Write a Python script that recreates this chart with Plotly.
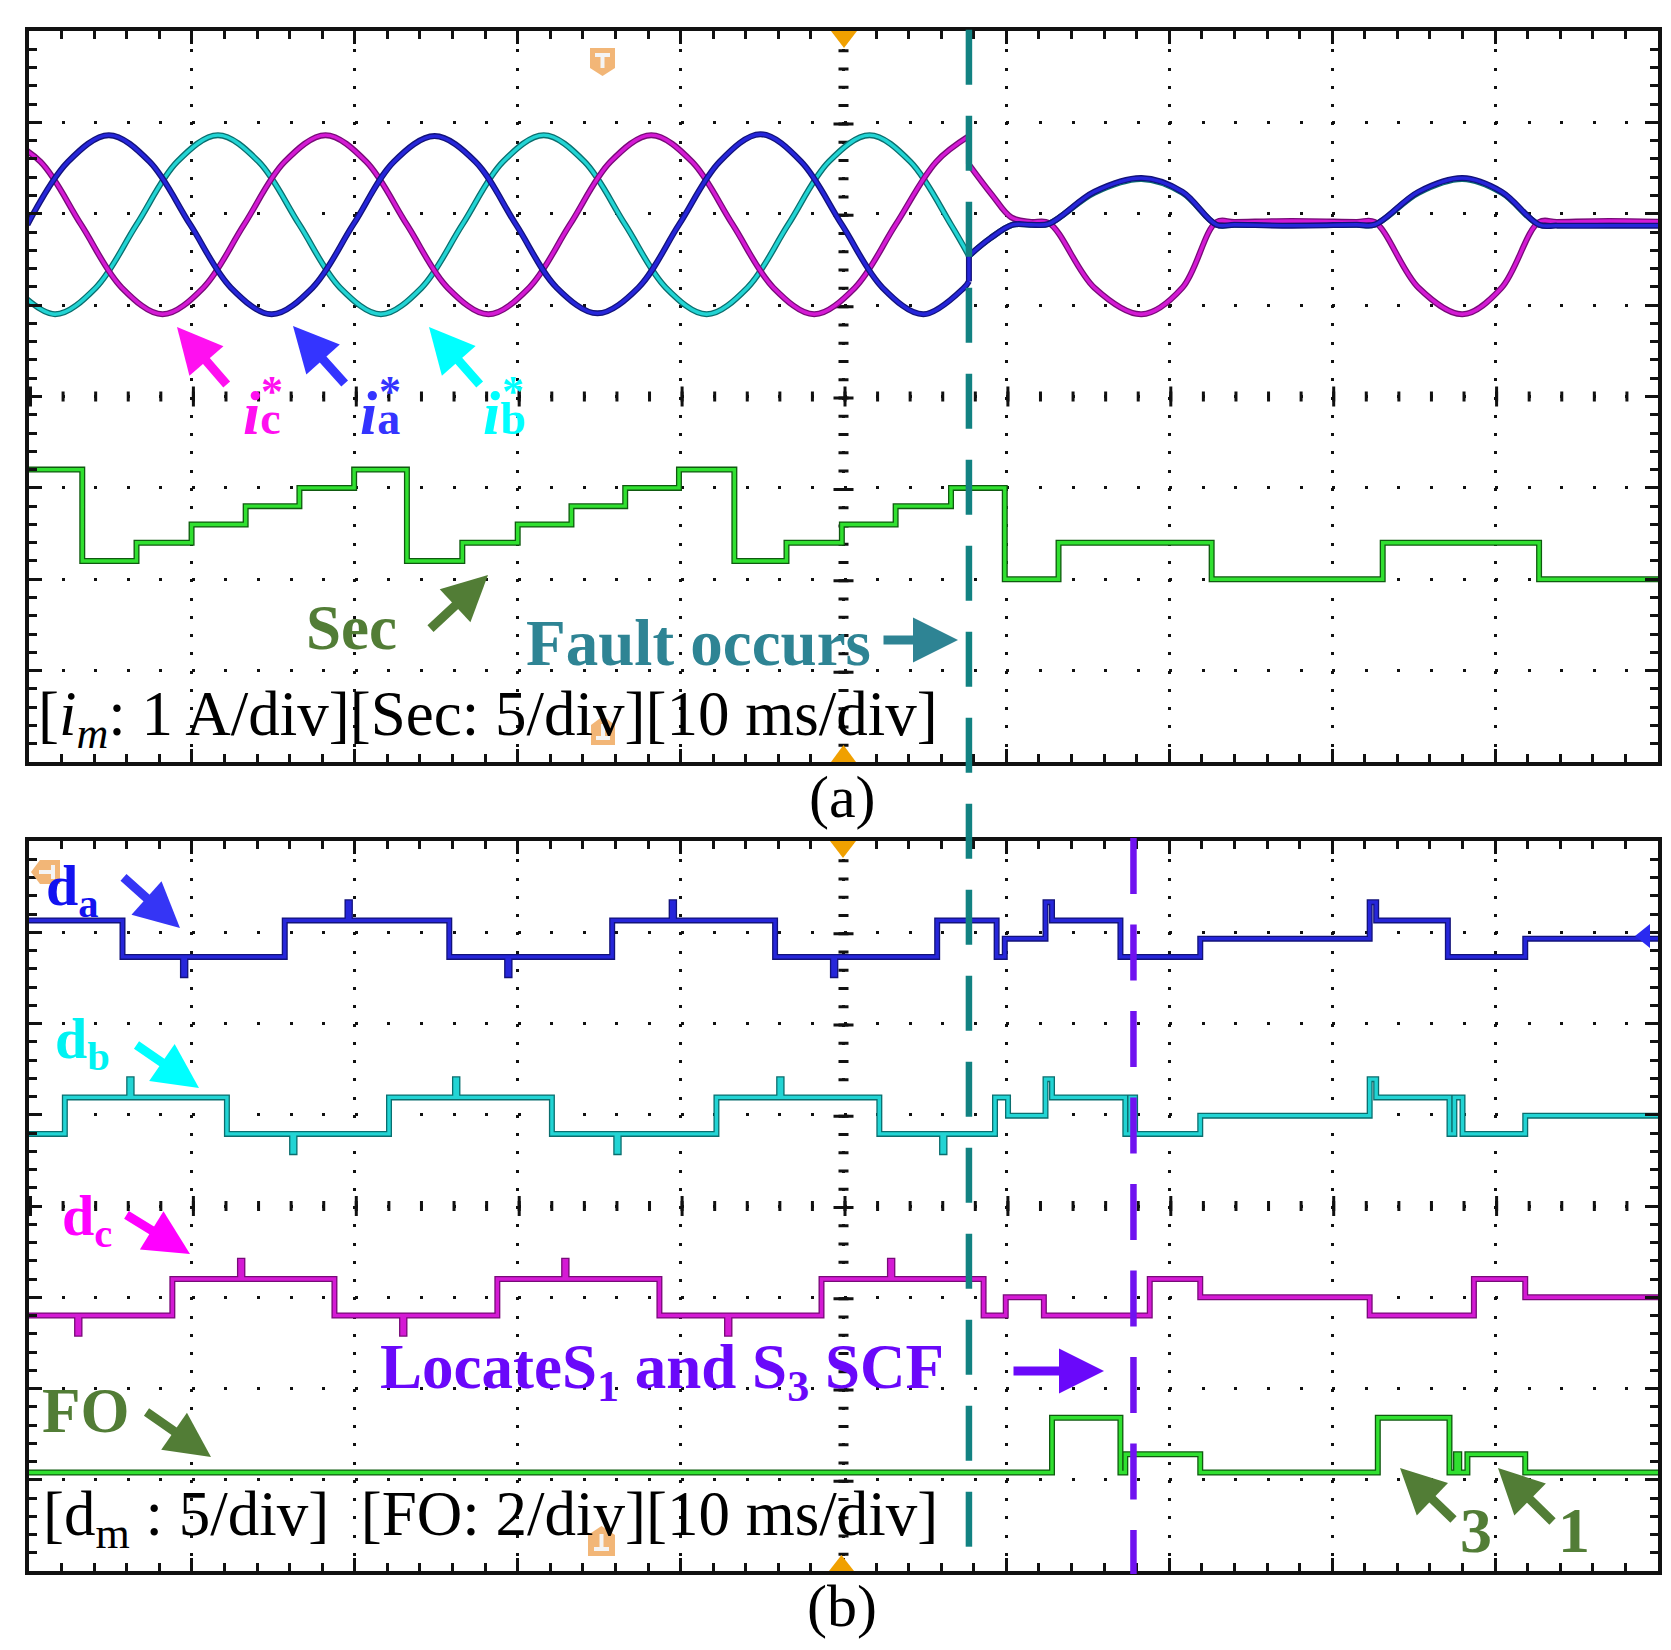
import numpy as np
import plotly.graph_objects as go

W, H = 1671, 1650
SERIF = "Liberation Serif, Times New Roman, serif"

# ---------------- panel (a): reference currents (A, 1 A/div), time in ms ----------------
IA_T = [-0.1, 2.4, 4.9, 7.4, 9.9, 12.4, 14.9, 17.4, 19.9, 22.4, 24.9, 27.4, 29.9, 32.4,
        34.9, 37.4, 39.9, 42.4, 44.9, 47.4, 49.9, 52.4, 54.9, 57.4, 57.7,
        57.7, 59.0, 60.4, 61.5, 62.6, 65.4, 68.3, 70.8, 72.9, 74.0, 77.5, 81.5, 82.6,
        85.3, 88.0, 90.4, 92.7, 93.8, 97.0, 100.5]
IA_V = [0.00, 0.69, 0.98, 0.69, 0.00, -0.69, -0.98, -0.69, 0.00, 0.69, 0.97, 0.69, 0.00, -0.69,
        -0.97, -0.69, 0.00, 0.69, 0.99, 0.69, 0.00, -0.69, -0.98, -0.69, -0.62,
        -0.34, -0.15, 0.00, 0.00, 0.01, 0.36, 0.51, 0.36, 0.00, 0.00, -0.01, 0.00, 0.00,
        0.36, 0.51, 0.36, 0.00, -0.01, -0.01, -0.01]

IB_T = [-0.9, 1.6, 4.1, 6.6, 9.1, 11.6, 14.1, 16.6, 19.1, 21.6, 24.1, 26.6, 29.1, 31.6,
        34.1, 36.6, 39.1, 41.6, 44.1, 46.6, 49.1, 51.6, 54.1, 56.6, 57.7,
        59.0, 60.4, 61.5, 62.6, 65.4, 68.3, 70.8, 72.9, 74.0, 77.5, 81.5, 82.6,
        85.3, 88.0, 90.4, 92.7, 93.8, 97.0, 100.5]
IB_V = [-0.69, -0.98, -0.69, 0.00, 0.69, 0.98, 0.69, 0.00, -0.69, -0.98, -0.69, 0.00, 0.69, 0.98,
        0.69, 0.00, -0.69, -0.98, -0.69, 0.00, 0.69, 0.98, 0.69, 0.00, -0.34,
        -0.15, 0.00, 0.00, 0.01, 0.35, 0.50, 0.35, 0.00, 0.00, 0.00, 0.00, 0.00,
        0.35, 0.50, 0.35, 0.00, 0.00, 0.00, 0.00]

IC_T = [-1.8, 0.7, 3.2, 5.7, 8.2, 10.7, 13.2, 15.7, 18.2, 20.7, 23.2, 25.7, 28.2, 30.7,
        33.2, 35.7, 38.2, 40.7, 43.2, 45.7, 48.2, 50.7, 53.2, 55.7, 57.7,
        57.7, 59.1, 60.3, 61.5, 62.6, 65.4, 68.3, 70.8, 72.9, 74.0, 77.5, 81.5, 82.6,
        85.3, 88.0, 90.4, 92.7, 93.8, 97.0, 100.5]
IC_V = [0.98, 0.69, 0.00, -0.69, -0.98, -0.69, 0.00, 0.69, 0.98, 0.69, 0.00, -0.69, -0.98, -0.69,
        0.00, 0.69, 0.98, 0.69, 0.00, -0.69, -0.98, -0.69, 0.00, 0.69, 0.97,
        0.66, 0.33, 0.08, 0.03, 0.02, -0.69, -0.98, -0.69, 0.03, 0.03, 0.04, 0.03, 0.03,
        -0.69, -0.98, -0.69, 0.03, 0.03, 0.04, 0.03]

# sector number (Sec: 5/div)
SEC_T = [0, 3.27, 6.6, 9.98, 13.3, 16.6, 19.96, 23.2, 26.6, 30.0, 33.3, 36.6, 39.9, 43.3,
         46.5, 49.9, 53.2, 56.6, 59.9, 63.2, 72.6, 83.1, 92.7, 100]
SEC_V = [6, 1, 2, 3, 4, 5, 6, 1, 2, 3, 4, 5, 6, 1, 2, 3, 4, 5, 0, 2, 0, 2, 0, 0]

# ---------------- panel (b): diagnostic variables (levels) ----------------
DA_T = [0, 5.74, 9.45, 9.6, 15.7, 19.55, 19.7, 25.8, 29.35, 29.5, 35.8, 39.45, 39.6, 45.8,
        49.35, 49.5, 55.75, 59.4, 59.9, 62.4, 62.8, 67.0, 71.9, 82.3, 82.7, 87.1, 91.85, 100]
DA_V = [1, -1, -2, -1, 1, 2, 1, -1, -2, -1, 1, 2, 1, -1, -2, -1, 1, -1, 0, 2, 1, -1, 0, 2, 1, -1, 0, 0]

DB_T = [0, 2.2, 6.15, 6.3, 12.15, 16.15, 16.3, 22.1, 26.15, 26.3, 32.1, 36.05, 36.2, 42.2, 46.05,
        46.2, 52.2, 56.05, 56.2, 59.3, 60.1, 62.4, 62.8, 67.3, 67.6, 67.9, 71.9, 82.3, 82.7,
        87.2, 87.5, 88.0, 91.85, 100]
DB_V = [-1, 1, 2, 1, -1, -2, -1, 1, 2, 1, -1, -2, -1, 1, 2, 1, -1, -2, -1, 1, 0, 2, 1, -1,
        1, -1, 0, 2, 1, -1, 1, -1, 0, 0]

DC_T = [0, 2.95, 3.1, 8.8, 12.95, 13.1, 18.75, 22.9, 23.05, 28.75, 32.85, 33.0, 38.7, 42.85,
        43.0, 48.65, 52.85, 53.0, 58.6, 59.96, 62.3, 68.8, 71.9, 82.3, 88.7, 91.85, 100]
DC_V = [-1, -2, -1, 1, 2, 1, -1, -2, -1, 1, 2, 1, -1, -2, -1, 1, 2, 1, -1, 0, -1, 1, 0, -1, 1, 0, 0]

FO_T = [0, 62.8, 67.0, 67.3, 71.9, 82.8, 87.2, 87.6, 87.8, 88.3, 91.85, 100]
FO_V = [0, 3, 0, 1, 0, 3, 0, 1, 0, 1, 0, 0]

T_FAULT = 57.7     # fault occurs
T_LOCATE = 67.8    # S1 and S3 located

# channel positions (div) and scale (div per unit)
I_POS, SEC_POS, SEC_DIV = 5.88, 2.0, 0.2
DA_POS, DB_POS, DC_POS, FO_POS, D_DIV = 6.93, 4.99, 3.00, 1.08, 0.2

# panel boxes in pixels: left, top, right, bottom
PA = (21, 23, 1650, 754)
PB = (21, 833, 1650, 1563)

BLUE = ("#12127a", "#2626da")
CYAN = ("#0a6e6e", "#22d4d4")
MAG = ("#780a78", "#d41ad4")
GRN = ("#0f5a0f", "#30e030")


def px(x):
    return x / W


def py(y):
    return 1 - y / H


fig = go.Figure()


def scope(t, y, cols, shape, xa, ya):
    for col, w in ((cols[0], 6), (cols[1], 3.4)):
        fig.add_trace(go.Scatter(x=t, y=y, mode="lines", xaxis=xa, yaxis=ya,
                                 line=dict(color=col, width=w, shape=shape),
                                 hoverinfo="skip", showlegend=False))


def current(t, v, cols):
    # smooth before and after the fault, straight jump at the fault instant
    t = np.array(t)
    y = I_POS + np.array(v)
    at = np.where(np.isclose(t, T_FAULT))[0]
    k1, k2 = at[0], at[-1]
    scope(t[:k1 + 1], y[:k1 + 1], cols, "spline", "x", "y")
    scope(t[k2:], y[k2:], cols, "spline", "x", "y")
    if k2 > k1:
        scope(t[k1:k2 + 1], y[k1:k2 + 1], cols, "linear", "x", "y")


scope(SEC_T, SEC_POS + SEC_DIV * np.array(SEC_V), GRN, "hv", "x", "y")
current(IB_T, IB_V, CYAN)
current(IC_T, IC_V, MAG)
current(IA_T, IA_V, BLUE)

scope(DA_T, DA_POS + D_DIV * np.array(DA_V), BLUE, "hv", "x2", "y2")
scope(DB_T, DB_POS + D_DIV * np.array(DB_V), CYAN, "hv", "x2", "y2")
scope(DC_T, DC_POS + D_DIV * np.array(DC_V), MAG, "hv", "x2", "y2")
scope(FO_T, FO_POS + D_DIV * np.array(FO_V), GRN, "hv", "x2", "y2")


def axes(box, anchor, is_x):
    l, t, r, b = box
    xminor = (r - l) / 50
    yminor = (b - t) / 40
    common = dict(anchor=anchor, showticklabels=False, fixedrange=True, zeroline=False,
                  ticks="inside", ticklen=13, tickwidth=3, tickcolor="#111",
                  minor=dict(ticks="inside", ticklen=8, tickwidth=3, tickcolor="#111", showgrid=False),
                  showline=True, linewidth=4, linecolor="#111", mirror="allticks",
                  showgrid=True, gridcolor="#111", gridwidth=3)
    if is_x:
        common.update(domain=[px(l), px(r)], range=[0, 100], dtick=10, tick0=0,
                      griddash="3px,%.3fpx" % (yminor - 3))
        common["minor"]["dtick"] = 2
    else:
        common.update(domain=[py(b), py(t)], range=[0, 8], dtick=1, tick0=0,
                      griddash="3px,%.3fpx" % (xminor - 3))
        common["minor"]["dtick"] = 0.2
    return common


shapes = []
for box, xr, yr in ((PA, "x", "y"), (PB, "x2", "y2")):
    l, t, r, b = box
    xminor, yminor = (r - l) / 50, (b - t) / 40
    for wd, per in ((10, yminor), (20, yminor * 5)):
        shapes.append(dict(type="line", xref=xr, yref=yr, x0=50, x1=50, y0=8, y1=0, layer="below",
                           line=dict(color="#111", width=wd, dash="3px,%.3fpx" % (per - 3))))
    for wd, per in ((10, xminor), (20, xminor * 5)):
        shapes.append(dict(type="line", xref=xr, yref=yr, x0=0, x1=100, y0=4, y1=4, layer="below",
                           line=dict(color="#111", width=wd, dash="3px,%.3fpx" % (per - 3))))

# event lines
shapes.append(dict(type="line", xref="x", yref="paper", x0=T_FAULT, x1=T_FAULT,
                   y0=py(21.7), y1=py(1547), line=dict(color="#128282", width=6.5, dash="55px,31px")))
shapes.append(dict(type="line", xref="x2", yref="paper", x0=T_LOCATE, x1=T_LOCATE,
                   y0=py(830), y1=py(1566), line=dict(color="#7012f0", width=6.5, dash="56px,30.5px")))


def ppath(pts):
    return "M" + "L".join("%.5f,%.5f" % (px(x), py(y)) for x, y in pts) + "Z"


ORANGE, PALE = "#f0a000", "#f2b677"
for tri in ([(823, 23), (849, 23), (836, 40)], [(823, 754), (848, 754), (835.5, 737)],
            [(822, 833), (848, 833), (835, 850)], [(821, 1563), (846, 1563), (833.5, 1547)]):
    shapes.append(dict(type="path", xref="paper", yref="paper", path=ppath(tri),
                       fillcolor=ORANGE, line=dict(width=0)))
for pen in ([(582, 40), (607, 40), (607, 60), (594.5, 68), (582, 60)],
            [(583, 737), (607, 737), (607, 717), (595, 708), (583, 717)],
            [(52, 852), (52, 876), (32, 876), (23, 864), (32, 852)],
            [(580, 1548), (607, 1548), (607, 1527), (593.5, 1518), (580, 1527)]):
    shapes.append(dict(type="path", xref="paper", yref="paper", path=ppath(pen),
                       fillcolor=PALE, line=dict(width=0)))
for tee in ([(587, 45), (602, 45), (602, 49), (596.5, 49), (596.5, 60), (592.5, 60), (592.5, 49), (587, 49)],
            [(588, 732), (602, 732), (602, 728), (597, 728), (597, 716), (593, 716), (593, 728), (588, 728)],
            [(47, 857), (47, 871), (43, 871), (43, 866), (31, 866), (31, 862), (43, 862), (43, 857)],
            [(586, 1543), (601, 1543), (601, 1539), (595.5, 1539), (595.5, 1526), (591.5, 1526), (591.5, 1539), (586, 1539)]):
    shapes.append(dict(type="path", xref="paper", yref="paper", path=ppath(tee),
                       fillcolor="#f4f4f4", line=dict(width=0)))
# channel marker of d_a at the right edge
shapes.append(dict(type="path", xref="paper", yref="paper",
                   path=ppath([(1627, 928), (1642, 916), (1642, 940)]),
                   fillcolor="#2a2af0", line=dict(width=0)))

ann = []


def label(x, y, text, size, color, anchor="center"):
    ann.append(dict(x=px(x), y=py(y), xref="paper", yref="paper", text=text, showarrow=False,
                    font=dict(family=SERIF, size=size, color=color), xanchor=anchor, yanchor="middle"))


def arrow(tail, head, color):
    ann.append(dict(x=px(head[0]), y=py(head[1]), xref="paper", yref="paper", text="",
                    showarrow=True, ax=tail[0] - head[0], ay=tail[1] - head[1],
                    arrowhead=2, arrowsize=1.0, arrowwidth=9, arrowcolor=color))


OLIVE, TEAL, VIOLET = "#527d36", "#2e8494", "#6a08fa"

# panel (a)
for cx, sx, sub, col, tail, head in ((254, 264, "c", "#ff10f0", (220, 378), (169, 319)),
                                     (371.5, 382, "a", "#3434ff", (338, 377), (285, 318)),
                                     (496, 505, "b", "#00ffff", (473, 378), (421, 319))):
    label(cx, 405, "<b><i>i</i><span style='font-size:46px'>%s</span></b>" % sub, 62, col)
    label(sx, 383, "<b>*</b>", 44, col)
    arrow(tail, head, col)

label(343, 620, "<b>Sec</b>", 63, OLIVE)
arrow((421, 622), (480, 567), OLIVE)
label(690, 635, "<b>Fault occurs</b>", 65, TEAL)
arrow((874, 632), (950, 632), TEAL)
label(28, 710, "[<i>i<sub>m</sub></i>: 1 A/div][Sec: 5/div][10 ms/div]", 63, "#000", "left")
label(834, 789, "(a)", 60, "#000")

# panel (b)
label(64, 881, "<b>d<sub>a</sub></b>", 58, "#1212f0")
arrow((114, 868), (172, 920), "#3535f5")
label(74, 1034, "<b>d<sub>b</sub></b>", 58, "#00f2f2")
arrow((127, 1036), (191, 1080), "#00ffff")
label(79, 1211, "<b>d<sub>c</sub></b>", 58, "#ff00ff")
arrow((117, 1206), (182, 1246), "#ff00ff")
label(78, 1403, "<b>FO</b>", 63, OLIVE)
arrow((137, 1403), (203, 1449), OLIVE)
label(654, 1363, "<b>LocateS<sub>1</sub> and S<sub>3</sub> SCF</b>", 63, VIOLET)
arrow((1004, 1363), (1096, 1363), VIOLET)
label(33, 1510, "[d<sub>m</sub> : 5/div] \u00a0[FO: 2/div][10 ms/div]", 63, "#000", "left")
label(1468, 1522, "<b>3</b>", 64, OLIVE)
arrow((1447, 1513), (1392, 1460), OLIVE)
label(1566, 1522, "<b>1</b>", 64, OLIVE)
arrow((1546, 1515), (1490, 1460), OLIVE)
label(834, 1598, "(b)", 60, "#000")

fig.update_layout(
    width=W, height=H, margin=dict(l=0, r=0, t=0, b=0),
    paper_bgcolor="white", plot_bgcolor="white", showlegend=False,
    xaxis=axes(PA, "y", True), yaxis=axes(PA, "x", False),
    xaxis2=axes(PB, "y2", True), yaxis2=axes(PB, "x2", False),
    shapes=shapes, annotations=ann,
)

fig.write_html("out.html")
